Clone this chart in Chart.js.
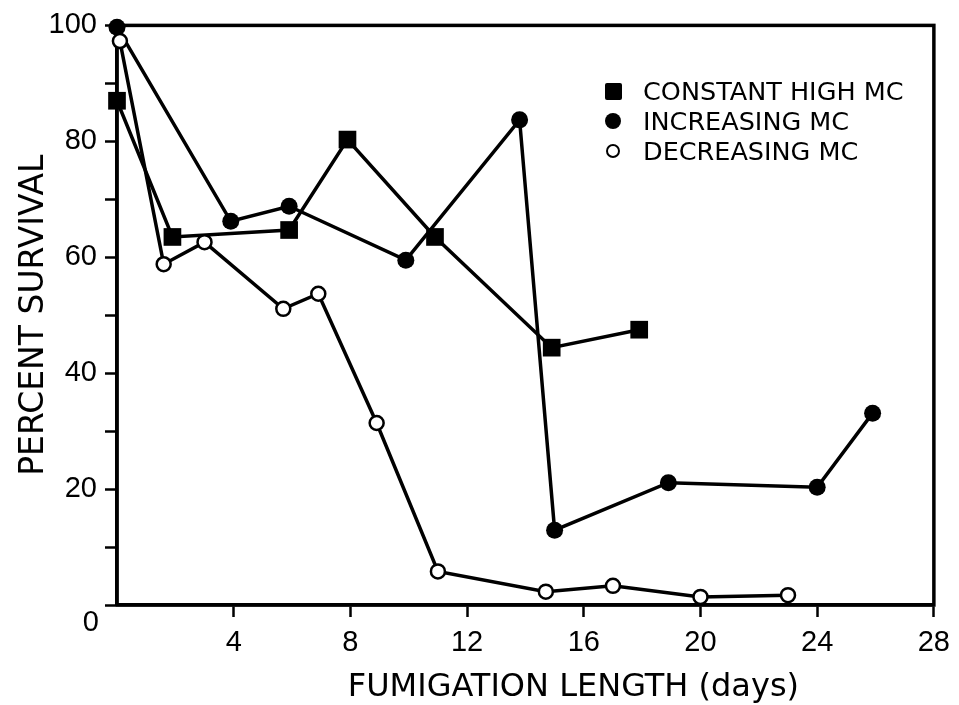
<!DOCTYPE html>
<html>
<head>
<meta charset="utf-8">
<script src="https://cdn.jsdelivr.net/npm/chart.js@4"></script>
<style>
    html, body { margin: 0; padding: 0; background: #fff; }
    #wrap { position: relative; width: 959px; height: 705px; }
    #leyenda { position: absolute; left: 600px; top: 76px; font-family: "DejaVu Sans"; font-size: 25.5px; color: #000; }
    #leyenda .fila { display: flex; align-items: center; height: 30px; white-space: nowrap; }
    #leyenda .marca { width: 26px; height: 30px; margin-right: 17px; display: flex; align-items: center; justify-content: center; }
    .cuadro { width: 17px; height: 17px; background: #000; border-radius: 2px; }
    .punto { width: 16px; height: 16px; background: #000; border-radius: 50%; }
    .hueco { width: 10px; height: 10px; border: 2.5px solid #000; border-radius: 50%; background: #fff; }
</style>
</head>
<body>
<div id="wrap">
    <canvas id="chartSupervivencia" width="959" height="705"></canvas>
    <div id="leyenda"></div>
</div>
<script>
// ── Datos ───────────────────────────────────────────────────
const diasConstante = [0, 1.9, 5.9, 7.9, 10.9, 14.9, 17.9];
const survConstante = [87, 63.5, 64.7, 80.3, 63.5, 44.4, 47.5];

const diasCreciente = [0, 3.9, 5.9, 9.9, 13.8, 15, 18.9, 24, 25.9];
const survCreciente = [99.7, 66.2, 68.8, 59.5, 83.7, 12.9, 21.1, 20.3, 33.1];

const diasDecreciente = [0.1, 1.6, 3, 5.7, 6.9, 8.9, 11, 14.7, 17, 20, 23];
const survDecreciente = [97.3, 58.8, 62.6, 51.1, 53.7, 31.4, 5.8, 2.3, 3.3, 1.4, 1.7];

const etiquetas = ['CONSTANT HIGH MC', 'INCREASING MC', 'DECREASING MC'];
const tituloX = 'FUMIGATION LENGTH (days)';
const tituloY = 'PERCENT SURVIVAL';
const ticksX = [4, 8, 12, 16, 20, 24, 28];
const ticksY = [0, 20, 40, 60, 80, 100];
const ticksYMenores = [10, 30, 50, 70, 90];

const puntos = (xs, ys) => xs.map((x, i) => ({ x, y: ys[i] }));

// marco completo, etiqueta "0" de la esquina y título X (algo desplazado a la derecha en el original)
const marcoPlugin = {
    id: 'marco',
    beforeDatasetsDraw(chart) {
        const { ctx, chartArea: a } = chart;
        ctx.save();
        ctx.strokeStyle = '#000';
        ctx.lineWidth = 3.5;
        ctx.strokeRect(a.left, a.top, a.right - a.left, a.bottom - a.top);
        ctx.restore();
    },
    afterDraw(chart) {
        const { ctx, chartArea: a, scales: { y } } = chart;
        ctx.save();
        ctx.fillStyle = '#000';
        ctx.font = '29px "Liberation Sans"';
        ctx.textAlign = 'right';
        ctx.textBaseline = 'middle';
        ctx.fillText(String(ticksY[0]), 99, y.getPixelForValue(ticksY[0]) + 18);

        ctx.font = '32px "DejaVu Sans"';
        ctx.textAlign = 'center';
        ctx.fillText(tituloX, (a.left + a.right) / 2 + 48, 688);
        ctx.restore();
    }
};

const negro = '#000';
const comun = { borderColor: negro, borderWidth: 3.5, tension: 0, clip: false, pointBorderColor: negro };

new Chart(document.getElementById('chartSupervivencia'), {
    type: 'line',
    data: {
        datasets: [
            {
                ...comun,
                label: etiquetas[2],
                data: puntos(diasDecreciente, survDecreciente),
                pointStyle: 'circle',
                pointRadius: 7,
                pointBorderWidth: 2.5,
                pointBackgroundColor: '#fff'
            },
            {
                ...comun,
                label: etiquetas[1],
                data: puntos(diasCreciente, survCreciente),
                pointStyle: 'circle',
                pointRadius: 8.5,
                pointBorderWidth: 0,
                pointBackgroundColor: negro
            },
            {
                ...comun,
                label: etiquetas[0],
                data: puntos(diasConstante, survConstante),
                pointStyle: 'rect',
                pointRadius: 12.5,
                pointBorderWidth: 0,
                pointBackgroundColor: negro
            }
        ]
    },
    options: {
        responsive: false,
        animation: false,
        layout: { padding: { left: 0, top: 22, right: 24, bottom: 0 } },
        plugins: { legend: { display: false }, tooltip: { enabled: false } },
        scales: {
            x: {
                type: 'linear',
                min: 0,
                max: 28,
                afterBuildTicks: s => { s.ticks = ticksX.map(v => ({ value: v })); },
                afterFit: s => { s.height = 100; },
                grid: { display: true, drawOnChartArea: false, drawTicks: true, tickLength: 12, color: negro, tickWidth: 2.5 },
                border: { display: true, color: negro, width: 3.5 },
                ticks: { color: negro, padding: 9, font: { family: 'Liberation Sans', size: 29 }, maxRotation: 0 },
                title: { display: false }
            },
            y: {
                type: 'linear',
                min: 0,
                max: 100,
                afterBuildTicks: s => {
                    s.ticks = [...ticksY, ...ticksYMenores].sort((a, b) => a - b).map(v => ({ value: v }));
                },
                afterFit: s => { s.width = 117; },
                grid: { display: true, drawOnChartArea: false, drawTicks: true, tickLength: 12, color: negro, tickWidth: 2.5 },
                border: { display: true, color: negro, width: 3.5 },
                ticks: {
                    color: negro,
                    padding: 8,
                    font: { family: 'Liberation Sans', size: 29 },
                    callback: v => (ticksY.includes(v) && v !== 0 ? String(v) : '')
                },
                title: {
                    display: true,
                    text: tituloY,
                    color: negro,
                    font: { family: 'DejaVu Sans', size: 33, lineHeight: 1 },
                    padding: { top: 18, bottom: 0 }
                }
            }
        }
    },
    plugins: [marcoPlugin]
});

// ── Leyenda HTML ───────────────────────────────────────────
const clasesMarca = ['cuadro', 'punto', 'hueco'];
document.getElementById('leyenda').innerHTML = etiquetas
    .map((t, i) => `<div class="fila"><span class="marca"><span class="${clasesMarca[i]}"></span></span><span>${t}</span></div>`)
    .join('');
</script>
</body>
</html>
